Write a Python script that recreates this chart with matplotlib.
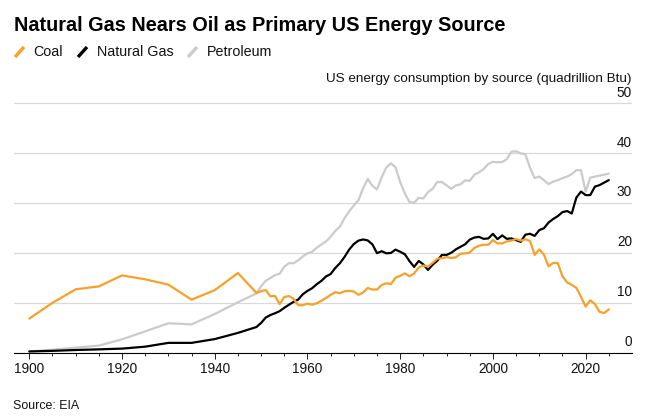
import matplotlib
matplotlib.use("Agg")
import matplotlib.pyplot as plt
from matplotlib.lines import Line2D
import numpy as np

# ---------------- data ----------------
years_early = [1900, 1905, 1910, 1915, 1920, 1925, 1930, 1935, 1940, 1945]
years_annual = list(range(1949, 2026))
years = years_early + years_annual

coal = [6.84, 10.00, 12.71, 13.29, 15.50, 14.71, 13.64, 10.63, 12.54, 15.97,
        11.98, 12.35, 12.55, 11.31, 11.37, 9.72, 11.17, 11.35, 10.82, 9.53,
        9.52, 9.84, 9.62, 9.91, 10.41, 10.96, 11.58, 12.14, 11.91, 12.33,
        12.38, 12.27, 11.60, 12.08, 12.97, 12.66, 12.66, 13.58, 13.92, 13.77,
        15.04, 15.42, 15.91, 15.32, 15.89, 17.07, 17.48, 17.26, 18.01, 18.85,
        18.93, 19.17, 18.99, 19.12, 19.84, 19.91, 20.09, 21.00, 21.45, 21.66,
        21.62, 22.58, 21.91, 21.90, 22.32, 22.47, 22.80, 22.45, 22.75, 22.39,
        19.60, 20.70, 19.66, 17.30, 18.00, 17.95, 15.30, 14.10, 13.60, 13.00,
        11.20, 9.25, 10.50, 9.75, 8.20, 7.95, 8.70]

natural_gas = [0.25, 0.37, 0.54, 0.67, 0.82, 1.21, 1.97, 1.97, 2.73, 3.97,
               5.15, 5.97, 7.05, 7.55, 7.91, 8.33, 9.00, 9.61, 10.19, 10.66,
               11.72, 12.39, 12.93, 13.73, 14.40, 15.29, 15.77, 16.99, 17.94, 19.21,
               20.68, 21.79, 22.47, 22.70, 22.51, 21.73, 19.95, 20.35, 19.93, 20.00,
               20.67, 20.23, 19.74, 18.36, 17.20, 18.39, 17.70, 16.59, 17.64, 18.45,
               19.60, 19.60, 20.03, 20.71, 21.23, 21.73, 22.67, 23.09, 23.22, 22.83,
               22.91, 23.82, 22.77, 23.51, 22.83, 22.91, 22.56, 22.22, 23.66, 23.84,
               23.42, 24.57, 24.95, 26.09, 26.81, 27.38, 28.19, 28.40, 27.90, 31.10,
               32.30, 31.60, 31.60, 33.30, 33.60, 34.10, 34.60]

petroleum = [0.23, 0.61, 1.01, 1.42, 2.68, 4.28, 5.90, 5.68, 7.76, 10.11,
             11.88, 13.32, 14.43, 14.96, 15.56, 15.84, 17.25, 17.94, 17.93, 18.53,
             19.32, 19.92, 20.22, 21.05, 21.70, 22.30, 23.25, 24.40, 25.28, 26.98,
             28.34, 29.52, 30.56, 32.95, 34.84, 33.45, 32.73, 35.17, 37.12, 37.97,
             37.12, 34.20, 31.93, 30.23, 30.05, 31.05, 30.92, 32.20, 32.87, 34.22,
             34.21, 33.55, 32.85, 33.53, 33.74, 34.56, 34.44, 35.68, 36.16, 36.82,
             37.84, 38.26, 38.19, 38.22, 38.81, 40.29, 40.39, 39.96, 39.77, 37.10,
             35.00, 35.30, 34.60, 33.80, 34.30, 34.60, 35.00, 35.30, 35.80, 36.60,
             36.60, 32.30, 35.10, 35.30, 35.50, 35.70, 35.90]

series_names = ["Coal", "Natural Gas", "Petroleum"]
y_ticks = [0, 10, 20, 30, 40, 50]
x_major = [1900, 1920, 1940, 1960, 1980, 2000, 2020]
x_minor = list(range(1900, 2030, 5))

title = "Natural Gas Nears Oil as Primary US Energy Source"
y_title = "US energy consumption by source (quadrillion Btu)"
source = "Source: EIA"

# ---------------- style ----------------
COLORS = {"Coal": "#F7A12A", "Natural Gas": "#000000", "Petroleum": "#CBCBCB"}
FONT = "Liberation Sans"
plt.rcParams["font.family"] = [FONT, "DejaVu Sans"]

W, H = 652, 419
fig = plt.figure(figsize=(W / 100, H / 100), dpi=100)

def fx(px):
    return px / W

def fy(py):
    return 1 - py / H

# axes: x 14..632, y 0 at 352.7, 50 at 103.3
ymax = 50.3
ppu = (352.7 - 103.3) / 50.0
top_px = 352.7 - ymax * ppu
ax = fig.add_axes([fx(14), fy(352.7), fx(632) - fx(14), (352.7 - top_px) / H])
ax.set_xlim(1896.7, 2030.0)
ax.set_ylim(0, ymax)

for name, vals in [("Petroleum", petroleum), ("Natural Gas", natural_gas), ("Coal", coal)]:
    ax.plot(years, vals, color=COLORS[name], lw=1.6, solid_joinstyle="round",
            solid_capstyle="round", zorder=3)

ax.set_yticks(y_ticks)
ax.yaxis.grid(True, color="#d9d9d9", lw=0.9)
ax.tick_params(axis="y", length=0, labelleft=False, labelright=False)
for v in y_ticks:
    ax.annotate(str(v), xy=(1, v), xycoords=ax.get_yaxis_transform(),
                xytext=(0, 4.8), textcoords="offset points",
                ha="right", va="baseline", fontsize=9.8, color="#111111")

ax.set_xticks(x_major)
ax.set_xticks(x_minor, minor=True)
ax.set_xticklabels([str(x) for x in x_major])
ax.tick_params(axis="x", which="major", length=4.5, width=0.7, color="#222222",
               pad=2.5, labelsize=9.8, labelcolor="#111111")
ax.tick_params(axis="x", which="minor", length=2.2, width=0.7, color="#222222")

for s in ["top", "left", "right"]:
    ax.spines[s].set_visible(False)
ax.spines["bottom"].set_color("#000000")
ax.spines["bottom"].set_linewidth(0.8)
ax.set_axisbelow(True)

# ---------------- texts ----------------
fig.text(fx(14), fy(30.7), title, fontsize=14.3, fontweight="bold",
         ha="left", va="baseline", color="#000000")

legend_items = [("Coal", 15, 33), ("Natural Gas", 78, 96.7), ("Petroleum", 188, 206.7)]
for name, mx, tx in legend_items:
    fig.add_artist(Line2D([fx(mx), fx(mx + 9)], [fy(57), fy(47)],
                          color=COLORS[name], lw=2.4, solid_capstyle="butt"))
    fig.text(fx(tx), fy(56.3), name, fontsize=10.3, ha="left", va="baseline",
             color="#111111")

fig.text(fx(631.5), fy(81.7), y_title, fontsize=9.7, ha="right", va="baseline",
         color="#111111")
fig.text(fx(13.3), fy(409), source, fontsize=8.9, ha="left", va="baseline",
         color="#111111")

fig.savefig("out.png", dpi=100)
